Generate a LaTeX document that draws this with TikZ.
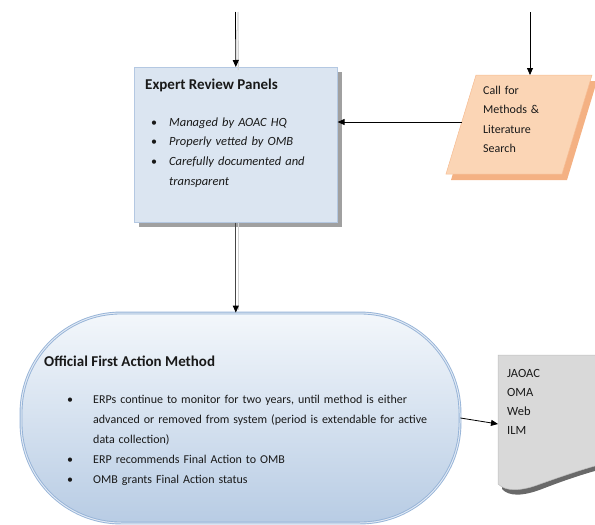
\documentclass[tikz,border=0pt]{standalone}
\usepackage{fontspec}
\setmainfont{Carlito}
\usetikzlibrary{arrows.meta,shadows}
\definecolor{erpfill}{RGB}{219,229,241}
\definecolor{erpline}{RGB}{180,200,226}
\definecolor{erpsh}{RGB}{160,160,160}
\definecolor{peach}{RGB}{251,213,181}
\definecolor{peachsh}{RGB}{244,177,131}
\definecolor{ofline}{RGB}{149,179,215}
\definecolor{ofgap}{RGB}{225,233,244}
\definecolor{oftop}{RGB}{243,247,251}
\definecolor{ofbot}{RGB}{184,204,228}
\definecolor{docfill}{RGB}{217,217,217}
\definecolor{docline}{RGB}{190,190,190}
\definecolor{docsh}{RGB}{105,105,105}
\definecolor{txt}{RGB}{25,25,25}
\begin{document}
\begin{tikzpicture}[x=1pt,y=-1pt,
  conn/.style={-{Triangle[length=7pt,width=6pt]}, line width=0.8pt, black},
  connsh/.style={gray!35, line width=1.2pt},
  erpbox/.style={draw=erpline, line width=0.6pt, fill=erpfill,
    drop shadow={shadow xshift=5pt, shadow yshift=-5pt, fill=erpsh, opacity=1}},
  ofamshape/.style={draw=ofline, double=ofgap, double distance=1pt, line width=0.9pt,
    top color=oftop, bottom color=ofbot, rounded corners=100pt},
  listtext/.style={anchor=north west, inner sep=0pt, text width=#1, align=left, text=txt},
  titletext/.style={anchor=base west, inner sep=0pt, text=txt},
  bul/.style={anchor=base west, inner sep=0pt, text=txt, font=\fontsize{12}{14}\selectfont}
]
\useasboundingbox (0,0) rectangle (595,525);
\clip (0,0) rectangle (595,525);

% ---------- Expert Review Panels ----------
\node[erpbox, anchor=north west, minimum width=203pt, minimum height=155pt, inner sep=0pt] (erp) at (134,67) {};
\node[titletext, font=\fontsize{15}{17}\selectfont\bfseries] (erptitle) at (145,89) {Expert Review Panels};
\node[listtext=160pt, font=\fontsize{12.5}{19.67}\selectfont\itshape] (erplist) at (169,112) {%
  \rule{0pt}{14pt}Managed by AOAC HQ\\Properly vetted by OMB\\Carefully documented and\\transparent};
\node[bul] (eb1) at (151,126) {\textbullet};
\node[bul] (eb2) at (151,145.67) {\textbullet};
\node[bul] (eb3) at (151,165.33) {\textbullet};

% ---------- Call for Methods (parallelogram) ----------
\fill[peachsh] (481,81) -- (597,81) -- (567,180) -- (451,180) -- cycle;
\fill[peach] (476,75) -- (592,75) -- (562,174) -- (446,174) -- cycle;
\draw[peachsh!70!peach, line width=0.5pt] (476,75) -- (592,75) -- (562,174) -- (446,174) -- cycle;
\node[listtext=80pt, font=\fontsize{12}{19.5}\selectfont] (calltext) at (483,80) {%
  \rule{0pt}{14pt}Call for\\Methods \&\\Literature\\Search};
\coordinate (callL) at (462,122);
\coordinate (callT) at (530,75);

% ---------- Official First Action Method ----------
\node[ofamshape, minimum width=439pt, minimum height=210pt] (ofam) at (240.5,418) {};
\node[titletext, font=\fontsize{15}{17}\selectfont\bfseries] (oftitle) at (44,366) {Official First Action Method};
\node[listtext=380pt, font=\fontsize{12}{20}\selectfont] (oflist) at (93,389) {%
  \rule{0pt}{14pt}ERPs continue to monitor for two years, until method is either\\
  advanced or removed from system (period is extendable for active\\
  data collection)\\
  ERP recommends Final Action to OMB\\
  OMB grants Final Action status};
\node[bul] (ob1) at (67,403) {\textbullet};
\node[bul] (ob2) at (67,463) {\textbullet};
\node[bul] (ob3) at (67,483) {\textbullet};

% ---------- Document (publications) ----------
\fill[docsh] (502,360) -- (610,360) -- (610,467)
  .. controls (585,473) and (560,482) .. (542,489)
  .. controls (524,496) and (509,497) .. (502,489) -- cycle;
\path[fill=docfill, draw=docline, line width=0.5pt] (498,355) -- (610,355) -- (610,462)
  .. controls (585,468) and (560,477) .. (540,484)
  .. controls (522,491) and (506,492) .. (498,484) -- cycle;
\coordinate (docL) at (498,424);
\node[listtext=60pt, font=\fontsize{12.5}{19}\selectfont] (doctext) at (507,363) {%
  \rule{0pt}{14pt}JAOAC\\OMA\\Web\\ILM};

% ---------- Connectors ----------
\coordinate (inA) at (235.5,12);
\coordinate (inB) at (530,12);
\draw[connsh] ([xshift=2.5pt]inA) -- ([xshift=2.5pt,yshift=-3pt]erp.north);
\draw[conn] (inA) -- (erp.north);
\draw[conn] (inB) -- (callT);
\draw[conn] (callL) -- (callL -| erp.east);
\draw[connsh] ([xshift=2.5pt]erp.south) -- ([xshift=2.5pt,yshift=3pt]erp.south |- ofam.north);
\draw[-{Triangle[length=7pt,width=6pt,black]}, line width=0.9pt, gray!55!black] (erp.south) -- (erp.south |- ofam.north);
\draw[conn] (ofam.east) -- (docL);
\end{tikzpicture}
\end{document}
